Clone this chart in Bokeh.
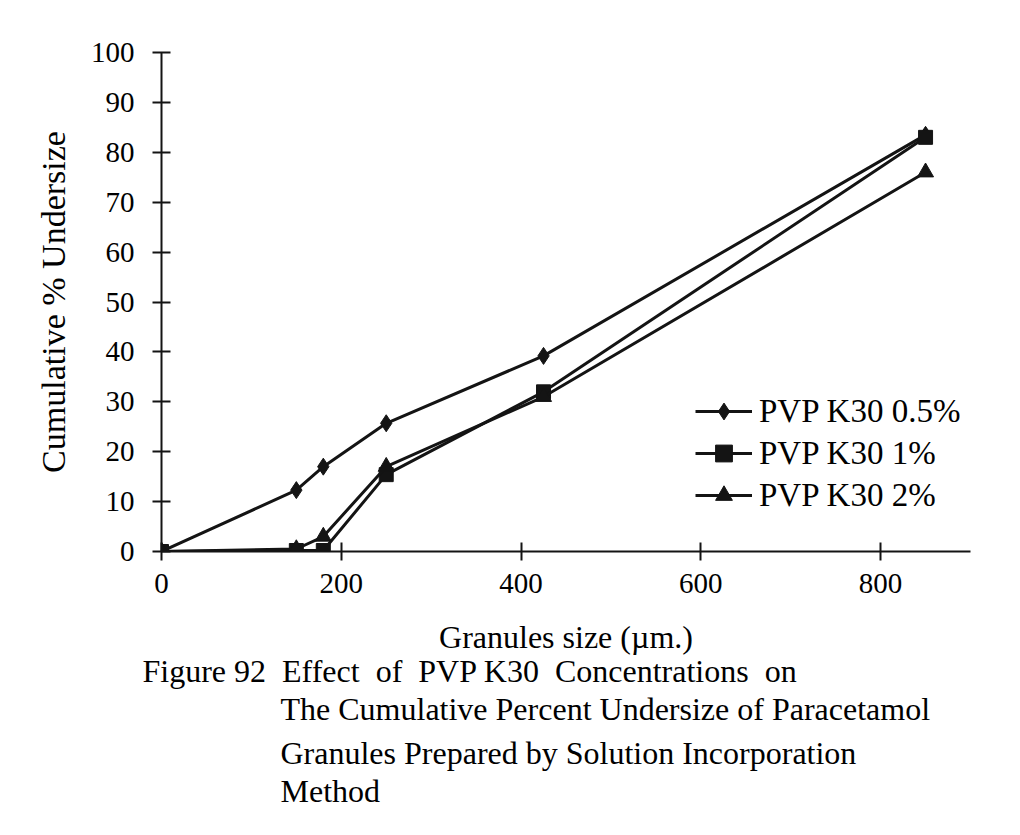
from bokeh.plotting import figure
from bokeh.models import Range1d, Title, Legend, LegendItem, FixedTicker
from bokeh.embed import file_html
from bokeh.resources import INLINE

# ---- data ----
sizes = [0, 150, 180, 250, 425, 850]
pvp_05 = [0, 12.3, 17.0, 25.7, 39.2, 83.5]
pvp_1 = [0, 0.2, 0.2, 15.4, 32.0, 83.0]
pvp_2 = [0, 0.5, 3.0, 17.0, 31.0, 76.0]
series_names = ["PVP K30 0.5%", "PVP K30 1%", "PVP K30 2%"]
x_ticks = [0, 200, 400, 600, 800]
y_ticks = [0, 10, 20, 30, 40, 50, 60, 70, 80, 90, 100]
caption_lines = [
    "Figure 92\u00a0\u00a0Effect\u00a0\u00a0of\u00a0\u00a0PVP K30\u00a0\u00a0Concentrations\u00a0\u00a0on",
    "The Cumulative Percent Undersize of Paracetamol",
    "Granules Prepared by Solution Incorporation",
    "Method",
]

FONT = "Liberation Serif"
INK = "#141414"

p = figure(width=1004, height=819, x_range=Range1d(0, 900), y_range=Range1d(0, 100),
           output_backend="svg", toolbar_location=None,
           min_border_left=161, min_border_right=34, min_border_top=52, min_border_bottom=268)
p.outline_line_color = None
p.grid.visible = False
p.background_fill_color = "white"
p.border_fill_color = "white"

for ax in (p.xaxis[0], p.yaxis[0]):
    ax.axis_line_width = 2
    ax.axis_line_color = INK
    ax.major_tick_line_width = 2
    ax.major_tick_line_color = INK
    ax.major_tick_in = 9
    ax.major_tick_out = 9
    ax.minor_tick_line_color = None
    ax.major_label_text_font = FONT
    ax.major_label_text_color = "black"
    ax.major_label_text_font_size = "29px"
    ax.axis_label_text_font = FONT
    ax.axis_label_text_font_style = "normal"
    ax.axis_label_text_color = "black"

p.xaxis.ticker = FixedTicker(ticks=x_ticks)
p.yaxis.ticker = FixedTicker(ticks=y_ticks)
p.xaxis.major_label_standoff = 13
p.yaxis.major_label_standoff = 18
p.xaxis.axis_label = "Granules size (\u00b5m.)"
p.xaxis.axis_label_text_font_size = "32px"
p.xaxis.axis_label_standoff = 23
p.yaxis.axis_label = "Cumulative % Undersize"
p.yaxis.axis_label_text_font_size = "34px"
p.yaxis.axis_label_standoff = 16

l1 = p.line(sizes, pvp_05, line_width=3, line_color=INK)
m1 = p.scatter(sizes, pvp_05, marker="diamond", size=17, fill_color=INK, line_color=INK)
l2 = p.line(sizes, pvp_1, line_width=3, line_color=INK)
m2 = p.scatter(sizes, pvp_1, marker="square", size=14, fill_color=INK, line_color=INK)
l3 = p.line(sizes, pvp_2, line_width=3, line_color=INK)
m3 = p.scatter(sizes, pvp_2, marker="triangle", size=16, fill_color=INK, line_color=INK)

legend = Legend(items=[
    LegendItem(label=series_names[0], renderers=[l1, m1]),
    LegendItem(label=series_names[1], renderers=[l2, m2]),
    LegendItem(label=series_names[2], renderers=[l3, m3]),
], location=(534, 35))
legend.border_line_color = None
legend.background_fill_alpha = 0
legend.padding = 0
legend.margin = 0
legend.spacing = 0
legend.glyph_width = 57
legend.glyph_height = 42
legend.label_height = 42
legend.label_standoff = 7
legend.label_text_font = FONT
legend.label_text_font_size = "33px"
legend.label_text_color = "black"
p.add_layout(legend, "center")

# caption as stacked titles below the x axis
cap_offsets = [-19, 119, 119, 119]
cap_standoffs = [-14, 14, -1, 0]
for txt, off, so in zip(caption_lines, cap_offsets, cap_standoffs):
    p.add_layout(Title(text=txt, align="left", offset=off, standoff=so,
                       text_font=FONT, text_font_size="32px", text_font_style="normal",
                       text_color="black"), "below")

open("out.html", "w").write(file_html(p, INLINE))
